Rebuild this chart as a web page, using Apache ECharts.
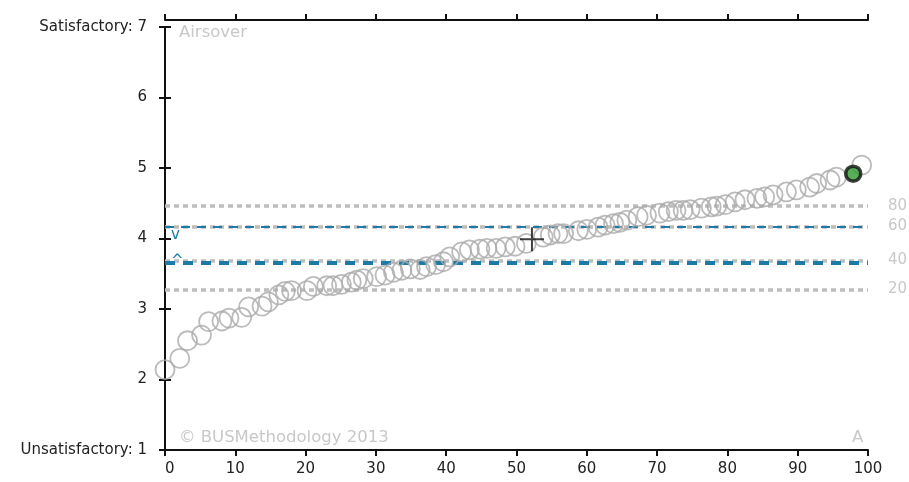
<!DOCTYPE html>
<html>
<head>
<meta charset="utf-8">
<script src="https://cdn.jsdelivr.net/npm/echarts@6/dist/echarts.min.js"></script>
<style>
  html, body { margin: 0; padding: 0; background: #fff; }
  #chart { width: 909px; height: 482px; }
</style>
</head>
<body>
<div id="chart"></div>
<script>
// percentile rank (x) and score (y) of each respondent
const ranks = [0, 2.1, 3.2, 5.2, 6.2, 8.1, 9.1, 10.9, 11.9, 13.8, 14.7, 16.2, 17.1, 18.0, 20.2, 21.1, 23.0, 23.9, 25.1, 26.5,
  27.3, 28.2, 30.1, 31.3, 32.5, 33.7, 34.9, 36.3, 37.2, 38.5, 39.6, 40.5, 42.2, 43.3, 44.8, 45.8, 47.1, 48.4, 49.8, 51.4,
  53.8, 54.8, 55.9, 56.7, 58.8, 60.0, 61.6, 62.6, 63.8, 64.7, 65.7, 67.3, 68.5, 70.4, 71.6, 72.7, 73.7, 74.7, 76.3, 77.7,
  78.5, 79.7, 81.1, 82.5, 84.2, 85.3, 86.5, 88.4, 89.8, 91.7, 92.7, 94.6, 95.5, 99.1]
const scores = [2.14, 2.30, 2.55, 2.63, 2.82, 2.83, 2.87, 2.88, 3.03, 3.04, 3.10, 3.20, 3.25, 3.26, 3.26, 3.32, 3.33, 3.33, 3.35, 3.38,
  3.41, 3.43, 3.46, 3.48, 3.52, 3.55, 3.57, 3.56, 3.60, 3.63, 3.67, 3.74, 3.81, 3.84, 3.85, 3.86, 3.86, 3.88, 3.89, 3.93,
  4.02, 4.05, 4.07, 4.07, 4.11, 4.13, 4.16, 4.19, 4.21, 4.23, 4.26, 4.31, 4.33, 4.36, 4.38, 4.40, 4.40, 4.41, 4.43, 4.45,
  4.46, 4.48, 4.52, 4.55, 4.57, 4.59, 4.62, 4.66, 4.69, 4.73, 4.78, 4.83, 4.87, 5.04]

const highlight = [97.9, 4.92]   // Airsover
const mean = [52.2, 3.99]

const pctLabels = ['20', '40', '60', '80']
const pctValues = [3.28, 3.695, 4.165, 4.46]
const benchUpper = 4.17
const benchLower = 3.655

const yTicks = { 7: 'Satisfactory: 7', 1: 'Unsatisfactory: 1' }

const FONT = 'DejaVu Sans'
const AXIS = '#111'
const GREY = '#bdbdbd'
const BLUE = '#1a7ba8'

const chart = echarts.init(document.getElementById('chart'), null, { renderer: 'canvas' })

const axisBase = {
  type: 'value', min: 0, max: 100, interval: 10,
  axisLine: { show: true, lineStyle: { color: AXIS, width: 2 } },
  axisTick: { show: true, inside: false, length: 6, lineStyle: { color: AXIS, width: 2 } },
  splitLine: { show: false }
}

const pctLines = pctValues.map((v, i) => ({
  yAxis: v,
  lineStyle: { color: GREY, type: [5, 4], width: 3.5 },
  label: { show: true, position: 'end', distance: 20, formatter: pctLabels[i], color: '#c8c8c8', fontSize: 15, fontFamily: FONT }
}))

const noteStyle = { color: '#c8c8c8', fontSize: 16.5, fontWeight: 'normal', fontFamily: FONT }

chart.setOption({
  animation: false,
  backgroundColor: '#fff',
  grid: { left: 165, right: 41, top: 27, bottom: 32 },
  title: [
    { text: 'Airsover', left: 179, top: 24, padding: 0, textStyle: noteStyle },
    { text: '© BUSMethodology 2013', left: 179, top: 429, padding: 0, textStyle: noteStyle },
    { text: 'A', left: 852, top: 429, padding: 0, textStyle: noteStyle }
  ],
  xAxis: [
    Object.assign({}, axisBase, {
      position: 'bottom',
      axisLabel: { color: '#222', fontSize: 15, fontFamily: FONT, margin: 12, alignMinLabel: 'left' }
    }),
    Object.assign({}, axisBase, {
      position: 'top', offset: 7,
      axisLabel: { show: false }
    })
  ],
  yAxis: [
    {
      type: 'value', min: 1, max: 7, interval: 1, position: 'left',
      axisLine: { show: true, lineStyle: { color: AXIS, width: 2 } },
      axisTick: { show: true, length: 6, lineStyle: { color: AXIS, width: 2 } },
      splitLine: { show: false },
      axisLabel: {
        color: '#222', fontSize: 15, fontFamily: FONT, margin: 18,
        formatter: v => yTicks[v] || String(v)
      }
    },
    {
      type: 'value', min: 1, max: 7, interval: 1, position: 'right', offset: 7,
      axisLine: { show: true, lineStyle: { color: AXIS, width: 2 } },
      axisTick: { show: true, length: 6, lineStyle: { color: AXIS, width: 2 } },
      splitLine: { show: false },
      axisLabel: { show: false }
    }
  ],
  series: [
    {
      type: 'scatter',
      z: 3,
      symbol: 'circle',
      symbolSize: 19,
      itemStyle: { color: 'rgba(255,255,255,0)', borderColor: '#aaaaaa', borderWidth: 1.8 },
      data: ranks.map((r, i) => [r, scores[i]]),
      markLine: {
        silent: true,
        symbol: 'none',
        z: 1,
        data: pctLines.concat([
          {
            yAxis: benchUpper,
            lineStyle: { color: BLUE, type: [9, 7], width: 2 },
            label: { show: true, position: 'insideStartBottom', distance: [6, 1], formatter: 'v', color: BLUE, fontSize: 15, fontFamily: FONT }
          },
          {
            yAxis: benchLower,
            lineStyle: { color: BLUE, type: [10, 8], width: 4 },
            label: { show: true, position: 'insideStartTop', distance: [6, -5], formatter: '^', color: BLUE, fontSize: 15, fontFamily: FONT }
          }
        ])
      }
    },
    {
      type: 'scatter',
      z: 5,
      symbol: 'path://M11,0h2v24h-2z M0,11h24v2h-24z',
      symbolSize: 24,
      itemStyle: { color: '#111' },
      data: [mean]
    },
    {
      type: 'scatter',
      z: 6,
      symbol: 'circle',
      symbolSize: 15,
      itemStyle: { color: '#2e9b30', borderColor: '#111', borderWidth: 3.5 },
      data: [highlight]
    }
  ]
})
</script>
</body>
</html>
